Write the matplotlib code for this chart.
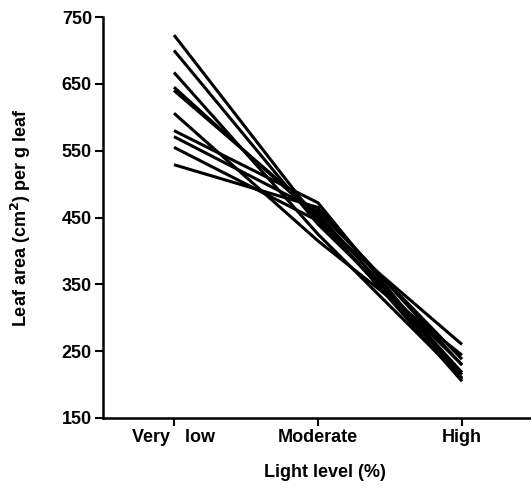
import matplotlib
matplotlib.use("Agg")
import matplotlib.pyplot as plt

plt.rcParams['font.family'] = ['Liberation Sans', 'DejaVu Sans']

light_levels = ["Very   low", "Moderate", "High"]
very_low = [723, 700, 667, 645, 640, 606, 580, 571, 555, 529]
moderate = [445, 440, 425, 450, 455, 415, 472, 460, 445, 465]
high = [215, 230, 210, 205, 218, 244, 208, 238, 260, 229]
y_ticks = [150, 250, 350, 450, 550, 650, 750]

fig = plt.figure(figsize=(5.31, 4.92), dpi=100)
ax = fig.add_axes([103/531, 1 - 418/492, 1 - 103/531, (418 - 17)/492])

xs = list(range(len(light_levels)))
for a, b, c in zip(very_low, moderate, high):
    ax.plot(xs, [a, b, c], color='black', lw=2.2, solid_capstyle='butt')

ax.set_xlim(-71/144, 2 + 69/144)
ax.set_ylim(150, 750)
ax.set_xticks(xs)
ax.set_xticklabels(light_levels, fontsize=13, fontweight='bold')
ax.set_yticks(y_ticks)
ax.set_yticklabels([str(v) for v in y_ticks], fontsize=13, fontweight='bold')
ax.tick_params(axis='both', direction='out', length=6, width=1.5, pad=2)

for s in ['top', 'right']:
    ax.spines[s].set_visible(False)
ax.spines['left'].set_linewidth(1.8)
ax.spines['bottom'].set_linewidth(1.8)

ax.set_xlabel("Light level (%)", fontsize=13, fontweight='bold')
ax.xaxis.set_label_coords(0.519, -0.115)
ax.set_ylabel("Leaf area (cm$^\\mathbf{2}$) per g leaf", fontsize=13, fontweight='bold', labelpad=21)

fig.savefig("out.png", dpi=100)
